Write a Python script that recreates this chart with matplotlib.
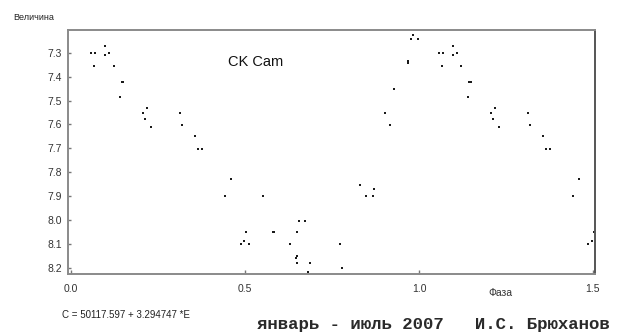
import matplotlib
matplotlib.use("Agg")
import matplotlib.pyplot as plt
import numpy as np

plt.rcParams['font.family'] = ['Liberation Sans', 'DejaVu Sans']

# phase (0..1) and magnitude
phase = [0.058, 0.068, 0.098, 0.098, 0.109, 0.067, 0.122, 0.145, 0.150, 0.140,
         0.218, 0.207, 0.213, 0.230, 0.312, 0.318, 0.357, 0.364, 0.376, 0.442,
         0.460, 0.487, 0.496, 0.502, 0.511, 0.551, 0.580, 0.584, 0.629, 0.646,
         0.650, 0.650, 0.650, 0.656, 0.671, 0.680, 0.686, 0.774, 0.780, 0.831,
         0.849, 0.868, 0.871, 0.903, 0.917, 0.928, 0.967, 0.967, 0.977, 0.983,
         0.998]
mag = [7.303, 7.303, 7.271, 7.311, 7.303, 7.354, 7.354, 7.421, 7.421, 7.487,
       7.531, 7.552, 7.579, 7.610, 7.552, 7.601, 7.650, 7.702, 7.702, 7.900,
       7.827, 8.098, 8.085, 8.049, 8.098, 7.900, 8.049, 8.049, 8.098, 8.159,
       8.148, 8.177, 8.049, 8.002, 8.002, 8.216, 8.177, 8.098, 8.198, 7.851,
       7.900, 7.900, 7.870, 7.552, 7.601, 7.452, 7.335, 7.345, 7.241, 7.225,
       7.241]
x_ticks = [0.0, 0.5, 1.0, 1.5]
x_labels = ["0.0", "0.5", "1.0", "1.5"]
y_ticks = [7.3, 7.4, 7.5, 7.6, 7.7, 7.8, 7.9, 8.0, 8.1, 8.2]
y_labels = ["7.3", "7.4", "7.5", "7.6", "7.7", "7.8", "7.9", "8.0", "8.1", "8.2"]

phase = np.array(phase)
mag = np.array(mag)
# second cycle repeated up to phase 1.5
rep = phase + 1.0 <= 1.505
ph_all = np.concatenate([phase, phase[rep] + 1.0])
mag_all = np.concatenate([mag, mag[rep]])

W, H = 631, 335
fig = plt.figure(figsize=(W / 100, H / 100), dpi=100)
ax = fig.add_axes([68 / W, 1 - 274 / H, 527 / W, 244 / H])

ax.plot(ph_all, mag_all, linestyle="none", marker="s", markersize=1.5,
        color="#1a1a1a", markeredgewidth=0, clip_on=False)

ax.set_xlim(-0.009, 1.506)
ax.set_ylim(8.225, 7.205)

ax.set_xticks(x_ticks)
ax.set_xticklabels(x_labels)
ax.set_yticks(y_ticks)
ax.set_yticklabels(y_labels)
ax.tick_params(axis="both", direction="in", labelsize=7.5, labelcolor="#333333",
               color="#777777", width=1)
ax.tick_params(axis="y", length=2.5, pad=4.5)
ax.tick_params(axis="x", length=3, pad=7)
ax.minorticks_off()

for side in ["left", "top", "bottom"]:
    ax.spines[side].set_color("#8a8a8a")
    ax.spines[side].set_linewidth(1.4)
ax.spines["right"].set_color("#555555")
ax.spines["right"].set_linewidth(1.4)

ax.text((228 - 68) / 527, 1 - (62 - 30) / 244, "CK Cam",
        transform=ax.transAxes, fontsize=10.5, ha="left", va="center",
        color="#111111")

fig.text(13 / W, 1 - 17 / H, "Величина", fontsize=6.5, ha="left",
         va="center", color="#222222")
fig.text(500 / W, 1 - 293 / H, "Фаза", fontsize=7.5, ha="center",
         va="center", color="#333333")
fig.text(62 / W, 1 - 315 / H, "C = 50117.597 + 3.294747 *E", fontsize=7,
         ha="left", va="center", color="#222222")
fig.text(257 / W, 1 - 325 / H, "январь - июль 2007   И.С. Брюханов",
         fontsize=12.5, family=["Liberation Mono", "DejaVu Sans Mono"],
         fontweight="bold", ha="left", va="center", color="#2a2a2a")

fig.savefig("out.png", dpi=100)
